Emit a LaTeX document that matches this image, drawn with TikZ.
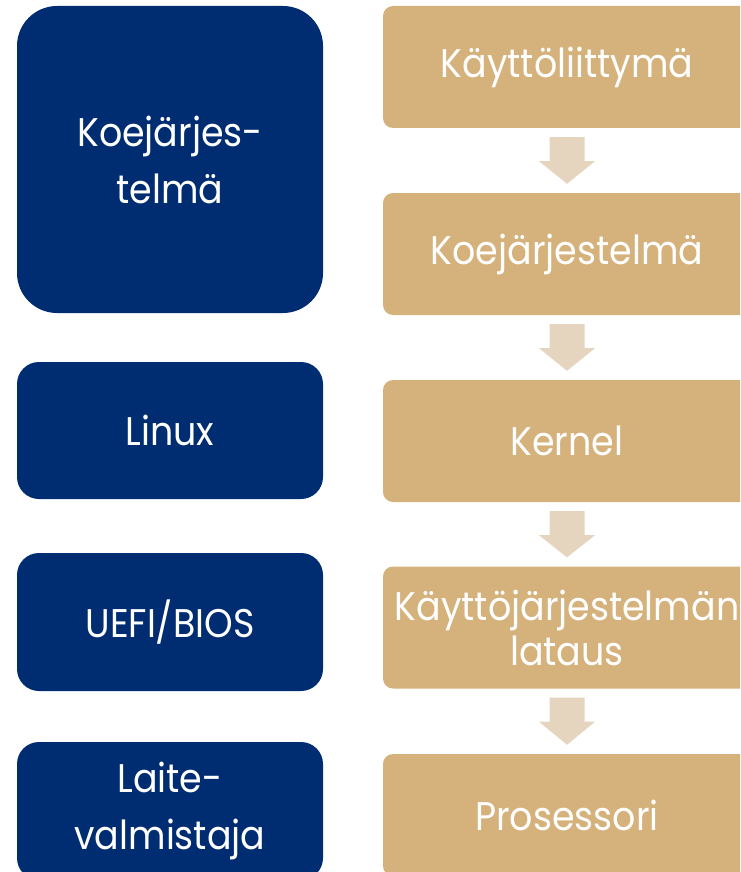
\documentclass[tikz,border=0pt]{standalone}
\usepackage{fontspec}
\setmainfont{Poppins}[FakeStretch=0.91]
\usetikzlibrary{calc}
\definecolor{darkblue}{RGB}{0,45,114}
\definecolor{tan}{RGB}{213,177,123}
\definecolor{lighttan}{RGB}{229,213,190}
\tikzset{
  leftbox/.style={fill=darkblue, text=white, rounded corners=22pt, minimum width=306pt, align=center, inner sep=0pt,
    font=\fontsize{40}{57}\selectfont},
  stagebox/.style={fill=tan, text=white, rounded corners=10pt, minimum width=368pt, minimum height=122pt, align=center, inner sep=0pt,
    text width=360pt, font=\fontsize{40}{45}\selectfont},
  flowarrow/.style={fill=lighttan}
}
\begin{document}
\begin{tikzpicture}[x=1pt,y=1pt]
\useasboundingbox (0,0) rectangle (740,-872);
\clip (0,0) rectangle (740,-872);

% left column
\node[leftbox, minimum height=307pt, rounded corners=40pt] (os) at (170,-159.5) {Koejärjes-\\telmä};
\node[leftbox, minimum height=137pt] (linux) at (170,-430.5) {Linux};
\node[leftbox, minimum height=138pt] (uefi) at (170,-622) {UEFI/BIOS};
\node[leftbox, minimum height=138pt] (maker) at (170,-811) {Laite-\\valmistaja};

% right column
\node[stagebox] (ui) at (567,-67) {Käyttöliittymä};
\node[stagebox] (exam) at (567,-254) {Koejärjestelmä};
\node[stagebox] (kernel) at (567,-441) {Kernel};
\node[stagebox] (boot) at (567,-627.5) {Käyttöjärjestelmän\\lataus};
\node[stagebox] (cpu) at (567,-815) {Prosessori};

% arrows
\foreach \a/\b in {ui/exam,exam/kernel,kernel/boot,boot/cpu}
  \fill[flowarrow] ($(\a.south)+(-17.5,-9)$) -- ($(\a.south)+(17.5,-9)$)
    -- ($(\a.south)+(17.5,-33)$) -- ($(\a.south)+(28,-33)$) -- ($(\b.north)+(0,9)$)
    -- ($(\a.south)+(-28,-33)$) -- ($(\a.south)+(-17.5,-33)$) -- cycle;
\end{tikzpicture}
\end{document}
